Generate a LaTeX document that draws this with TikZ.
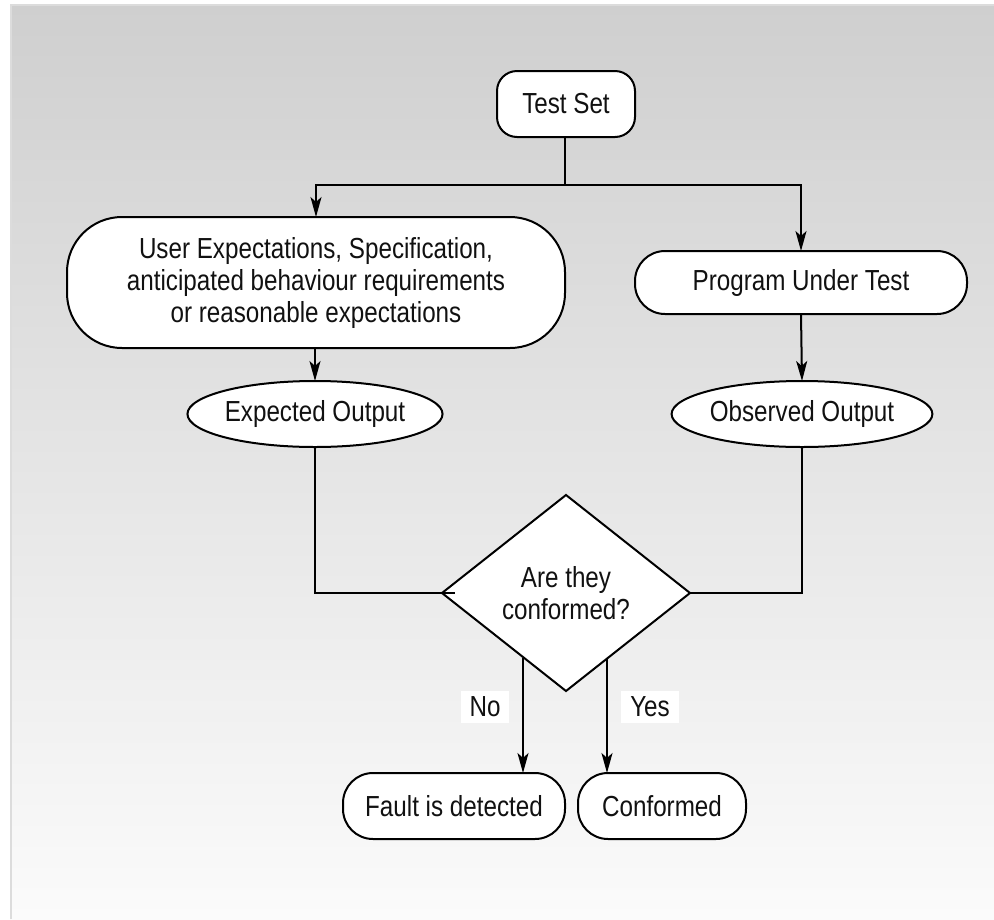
\documentclass[tikz,border=0pt]{standalone}
\usepackage{fontspec}
\setmainfont{Liberation Sans}[FakeStretch=0.835]
\usetikzlibrary{arrows.meta,shapes.geometric}
\definecolor{bgtop}{HTML}{CFCFCF}
\definecolor{bgbot}{HTML}{FBFBFB}
\definecolor{bgline}{HTML}{DCDCDC}
\definecolor{ink}{HTML}{111111}
\tikzset{
  base/.style={draw=black, fill=white, line width=2pt, inner sep=0pt, outer sep=0pt, text=ink,
    font=\fontsize{29}{32}\selectfont, align=center},
  rbox/.style={base, rectangle},
  oval/.style={base, ellipse},
  decision/.style={base, diamond},
  tag/.style={fill=white, inner sep=0pt, text=ink, font=\fontsize{29}{32}\selectfont},
  conn/.style={line width=2pt, draw=black},
  arr/.style={conn, -{Stealth[length=20pt,width=11pt,inset=5pt]}}
}
\begin{document}
\begin{tikzpicture}[x=1pt,y=-1pt]
\useasboundingbox (0,0) rectangle (994,919);
\shade[top color=bgtop, bottom color=bgbot] (10,4) rectangle (994,919);
\draw[bgline, line width=2pt] (11,919) -- (11,5) -- (994,5);

\node[rbox, rounded corners=20pt, minimum width=138pt, minimum height=66pt] (ts) at (566,104) {Test Set};
\node[rbox, rounded corners=55pt, minimum width=498pt, minimum height=131pt] (ue) at (316,282.5)
  {User Expectations, Specification,\\anticipated behaviour requirements\\or reasonable expectations};
\node[rbox, rounded corners=30pt, minimum width=332pt, minimum height=63pt] (put) at (801,282.5) {Program Under Test};
\node[oval, minimum width=250pt, minimum height=66pt] (eo) at (315,414) {Expected Output};
\node[oval, minimum width=250pt, minimum height=66pt] (oo) at (802,414) {Observed Output};
\node[decision, minimum width=248pt, minimum height=196pt] (dia) at (566,593) {Are they\\conformed?};
\node[rbox, rounded corners=30pt, minimum width=222pt, minimum height=66pt] (fd) at (454,806) {Fault is detected};
\node[rbox, rounded corners=30pt, minimum width=168pt, minimum height=66pt] (cf) at (662,806) {Conformed};
\node[tag, minimum width=48pt, minimum height=32pt] (no) at (485,707) {No};
\node[tag, minimum width=58pt, minimum height=32pt] (yes) at (650,707) {Yes};

\coordinate (j) at (565,185);
\draw[conn] (ts.south -| j) -- (j);
\draw[arr] (j) -| (ue.north -| 316,0);
\draw[arr] (j) -| (put.north);
\draw[arr] (ue.south -| eo.north) -- (eo.north);
\draw[arr] (put.south) -- (oo.north);
\draw[conn] (eo.south) |- ([xshift=13pt]dia.west);
\draw[conn] (oo.south) |- (dia.east);
\coordinate (nstart) at (523,658);
\coordinate (ystart) at (607,658);
\draw[arr] (nstart) -- (nstart |- fd.north);
\draw[arr] (ystart) -- (ystart |- cf.north);
\end{tikzpicture}
\end{document}
